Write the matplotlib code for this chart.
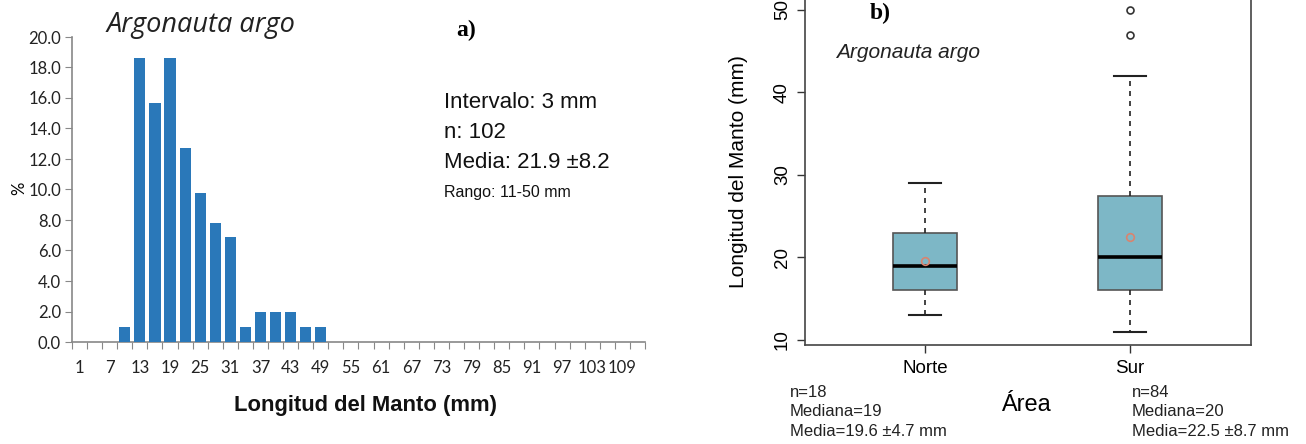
import matplotlib
matplotlib.use("Agg")
import matplotlib.pyplot as plt
import numpy as np

# ---------------- data ----------------
# Histogram (panel a): class marks every 3 mm, percentages
class_marks = list(range(1, 113, 3))          # 1, 4, 7, ..., 112
pct_values = [0.0, 0.0, 0.0, 1.0, 18.6, 15.7, 18.6, 12.7, 9.8, 7.8, 6.9, 1.0,
              2.0, 2.0, 2.0, 1.0, 1.0, 0.0, 0.0, 0.0, 0.0, 0.0, 0.0, 0.0, 0.0,
              0.0, 0.0, 0.0, 0.0, 0.0, 0.0, 0.0, 0.0, 0.0, 0.0, 0.0, 0.0, 0.0]
y_ticks_a = [0.0, 2.0, 4.0, 6.0, 8.0, 10.0, 12.0, 14.0, 16.0, 18.0, 20.0]

# Boxplot (panel b)
areas = ["Norte", "Sur"]
whisker_low = [13, 11]
q1 = [16, 16]
medians = [19, 20]
q3 = [23, 27.5]
whisker_high = [29, 42]
means = [19.6, 22.5]
outliers = [[], [47, 50]]
y_ticks_b = [10, 20, 30, 40, 50]
n_values = [18, 84]
mean_text = ["19.6 \u00b14.7", "22.5 \u00b18.7"]

W, H = 1306, 444
fig = plt.figure(figsize=(W / 100, H / 100), dpi=100)
fig.patch.set_facecolor("white")


def fx(px):
    return px / W


def fy(py):
    return 1 - py / H


# ---------------- panel a ----------------
axA = fig.add_axes([fx(72), fy(342), fx(645) - fx(72), fy(37) - fy(342)])
idx = np.arange(len(class_marks))
axA.bar(idx, pct_values, width=0.74, color="#2a78b9", edgecolor="none", zorder=3)
axA.set_xlim(-0.5, len(class_marks) - 0.5)
axA.set_ylim(0, 20)
axA.set_yticks(y_ticks_a)
axA.set_yticklabels([f"{v:.1f}" for v in y_ticks_a], fontsize=12,
                    family=["Lato", "DejaVu Sans"], color="#222222")
axA.set_xticks(np.arange(len(class_marks) + 1) - 0.5)
axA.set_xticklabels([])
axA.set_xticks(idx, minor=True)
axA.set_xticklabels([str(c) if i % 2 == 0 else "" for i, c in enumerate(class_marks)],
                    minor=True, fontsize=12, family=["Lato", "DejaVu Sans"],
                    color="#222222")
axA.tick_params(axis="x", which="major", direction="out", length=5, color="#888888")
axA.tick_params(axis="x", which="minor", length=0, pad=13)
axA.tick_params(axis="y", direction="out", length=5, color="#888888", pad=3)
for s in ["top", "right"]:
    axA.spines[s].set_visible(False)
for s in ["left", "bottom"]:
    axA.spines[s].set_color("#888888")
    axA.spines[s].set_linewidth(1.2)
axA.set_ylabel("%", fontsize=12, family=["Lato", "DejaVu Sans"], labelpad=1)
axA.yaxis.set_label_coords(-0.078, 0.505)

fig.text(fx(201), fy(25), "Argonauta argo", fontsize=19.5, style="italic",
         family=["Open Sans", "DejaVu Sans"], ha="center", va="center", color="#222222")
fig.text(fx(466), fy(30), "a)", fontsize=17, weight="bold",
         family=["Liberation Serif", "DejaVu Serif"], ha="center", va="center")
narrow = ["Liberation Sans Narrow", "Liberation Sans", "DejaVu Sans"]
fig.text(fx(444), fy(103), "Intervalo: 3 mm", fontsize=16, family=narrow,
         ha="left", va="center", color="#111111")
fig.text(fx(444), fy(132), "n: 102",
         fontsize=16, family=narrow, ha="left", va="center", color="#111111")
fig.text(fx(444), fy(162), "Media: 21.9 \u00b18.2", fontsize=16, family=narrow,
         ha="left", va="center", color="#111111")
fig.text(fx(444), fy(192), "Rango: 11-50 mm", fontsize=11.5, family=narrow,
         ha="left", va="center", color="#111111")
fig.text(fx(365), fy(405), "Longitud del Manto (mm)", fontsize=15.8, weight="bold",
         family=["Liberation Sans", "DejaVu Sans"], ha="center", va="center",
         color="#111111")

# ---------------- panel b ----------------
ylo, yhi = 9.44, 51.56
axB = fig.add_axes([fx(805), fy(344.6), fx(1251) - fx(805), fy(-2.9) - fy(344.6)])
stats = []
for i in range(len(areas)):
    stats.append(dict(label=areas[i], whislo=whisker_low[i], q1=q1[i], med=medians[i],
                      q3=q3[i], whishi=whisker_high[i], fliers=outliers[i]))
positions = [1, 2]
axB.bxp(stats, positions=positions, widths=0.31, capwidths=0.155, patch_artist=True,
        showfliers=True,
        boxprops=dict(facecolor="#7db7c6", edgecolor="#555555", linewidth=1.2),
        whiskerprops=dict(color="#222222", linestyle=(0, (3, 3)), linewidth=1.2),
        capprops=dict(color="#222222", linewidth=1.5),
        medianprops=dict(color="black", linewidth=2.6),
        flierprops=dict(marker="o", markerfacecolor="none", markeredgecolor="#333333",
                        markersize=5, markeredgewidth=1.2))
axB.plot(positions, means, linestyle="none", marker="o", markerfacecolor="none",
         markeredgecolor="#d9846f", markersize=5.5, markeredgewidth=1.2, zorder=5)
axB.set_xlim(0.415, 2.59)
axB.set_ylim(ylo, yhi)
axB.set_yticks(y_ticks_b)
axB.set_yticklabels([str(v) for v in y_ticks_b], rotation=90, va="center",
                    fontsize=13.5, family=["Liberation Sans", "DejaVu Sans"])
axB.set_xticks(positions)
axB.set_xticklabels(areas, fontsize=13.5, family=["Liberation Sans", "DejaVu Sans"])
axB.tick_params(axis="both", direction="out", length=6, color="#333333", width=1.0)
axB.tick_params(axis="x", pad=5)
axB.tick_params(axis="y", pad=4)
for s in axB.spines.values():
    s.set_color("#444444")
    s.set_linewidth(1.2)
axB.set_ylabel("Longitud del Manto (mm)", fontsize=15,
               family=["Liberation Sans", "DejaVu Sans"])
axB.yaxis.set_label_coords(-0.128, (fy(172) - fy(344.6)) / (fy(-2.9) - fy(344.6)))

fig.text(fx(880), fy(13), "b)", fontsize=17, weight="bold",
         family=["Liberation Serif", "DejaVu Serif"], ha="center", va="center")
fig.text(fx(836), fy(52), "Argonauta argo", fontsize=15, style="italic",
         family=["Liberation Sans", "DejaVu Sans"], ha="left", va="center",
         color="#222222")
fig.text(fx(1026), fy(405), "\u00c1rea", fontsize=17,
         family=["Liberation Sans", "DejaVu Sans"], ha="center", va="center")

stat_x = [790, 1132]
for i in range(len(areas)):
    lines = [f"n={n_values[i]}", f"Mediana={medians[i]}", f"Media={mean_text[i]} mm"]
    for j, t in enumerate(lines):
        fig.text(fx(stat_x[i]), fy(392 + 19.5 * j), t, fontsize=12,
                 family=["Liberation Sans", "DejaVu Sans"], ha="left", va="center",
                 color="#222222")

fig.savefig("out.png", dpi=100, facecolor="white")
